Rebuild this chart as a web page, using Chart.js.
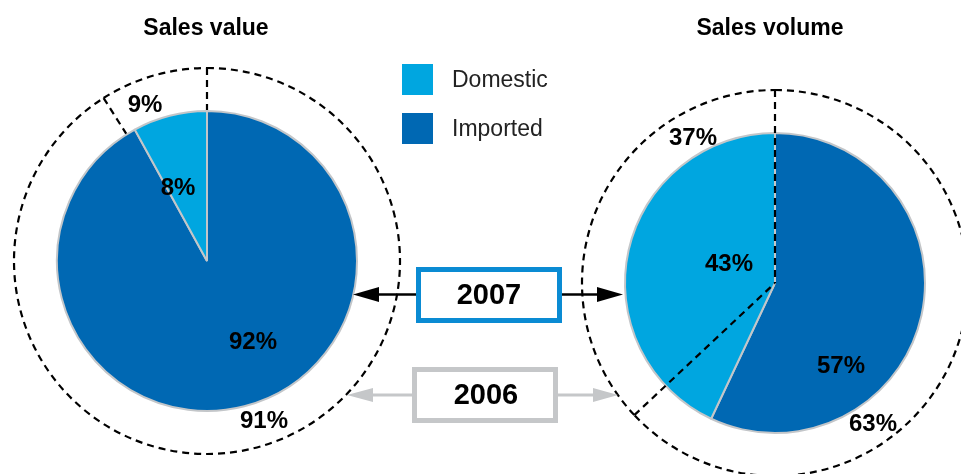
<!DOCTYPE html>
<html>
<head>
<meta charset="utf-8">
<script src="https://cdn.jsdelivr.net/npm/chart.js@4.4.1/dist/chart.umd.min.js"></script>
<style>
  html, body { margin: 0; padding: 0; background: #fff; overflow: hidden; }
  #stage { position: relative; width: 961px; height: 474px; overflow: hidden;
           font-family: "Liberation Sans", Arial, Helvetica, sans-serif; }
  #stage canvas { position: absolute; }
  .lbl { position: absolute; line-height: 1; white-space: nowrap; transform: translate(-50%, -50%); z-index: 10; }
  .title { font-weight: bold; font-size: 23px; color: #000; }
  .pct { font-weight: bold; font-size: 24px; color: #000; }
  .legend { position: absolute; left: 402px; top: 64px; z-index: 10; }
  .legend-row { display: flex; align-items: center; height: 31px; margin-bottom: 18px; }
  .legend-row span.box { width: 31px; height: 31px; margin-right: 19px; }
  .legend-row span.txt { font-size: 23px; color: #222; line-height: 1; }
  svg { position: absolute; left: 0; top: 0; z-index: 9; }
</style>
</head>
<body>
<div id="stage"></div>
<script>
// data
const categories = ['Domestic', 'Imported'];
const years = ['2007', '2006'];
const panelTitles = ['Sales value', 'Sales volume'];
const salesValue2007 = [8, 92];
const salesValue2006 = [9, 91];
const salesVolume2007 = [43, 57];
const salesVolume2006 = [37, 63];

const colors = ['#00a6e0', '#0068b3'];
const pieBorder = '#c3c6c9';

// layout of the two panels (centre of pies, label anchors)
const panels = [
  { title: panelTitles[0], titleX: 206, cx: 207, cy: 261, cur: salesValue2007, prev: salesValue2006, prevOnTop: false,
    curLabels: [[178, 187], [253, 341]], prevLabels: [[145, 104], [264, 420]] },
  { title: panelTitles[1], titleX: 770, cx: 775, cy: 283, cur: salesVolume2007, prev: salesVolume2006, prevOnTop: true,
    curLabels: [[729, 263], [841, 365]], prevLabels: [[693, 137], [873, 423]] }
];

const stage = document.getElementById('stage');

// dashed outline for the previous year, drawn from the arc geometry
const dashedOutline = {
  id: 'dashedOutline',
  afterDatasetsDraw(chart, args, opts) {
    const ctx = chart.ctx;
    const arcs = chart.getDatasetMeta(0).data;
    ctx.save();
    ctx.strokeStyle = opts.color;
    ctx.lineWidth = opts.width;
    ctx.setLineDash(opts.dash);
    arcs.forEach(arc => {
      const { x, y, startAngle, endAngle, outerRadius } =
        arc.getProps(['x', 'y', 'startAngle', 'endAngle', 'outerRadius'], true);
      ctx.beginPath();
      ctx.arc(x, y, outerRadius, startAngle, endAngle);
      ctx.stroke();
      ctx.beginPath();
      ctx.moveTo(x + Math.cos(startAngle) * outerRadius, y + Math.sin(startAngle) * outerRadius);
      ctx.lineTo(x, y);
      ctx.stroke();
    });
    ctx.restore();
  }
};

function addCanvas(cx, cy, size, z) {
  const c = document.createElement('canvas');
  c.width = size; c.height = size;
  c.style.left = (cx - size / 2) + 'px';
  c.style.top = (cy - size / 2) + 'px';
  c.style.zIndex = z;
  stage.appendChild(c);
  return c;
}

function addLabel(text, x, y, cls) {
  const d = document.createElement('div');
  d.className = 'lbl ' + cls;
  d.textContent = text;
  d.style.left = x + 'px';
  d.style.top = y + 'px';
  stage.appendChild(d);
}

panels.forEach(p => {
  // 2007 pie (imported first so domestic sits left of 12 o'clock)
  const curCanvas = addCanvas(p.cx, p.cy, 306, p.prevOnTop ? 1 : 2);
  new Chart(curCanvas, {
    type: 'pie',
    data: {
      labels: [categories[1], categories[0]],
      datasets: [{
        data: [p.cur[1], p.cur[0]],
        backgroundColor: [colors[1], colors[0]],
        borderColor: pieBorder,
        borderWidth: 2
      }]
    },
    options: {
      responsive: false, animation: false, events: [], radius: 150,
      plugins: { legend: { display: false }, tooltip: { enabled: false } }
    }
  });

  // 2006 dashed pie
  const prevCanvas = addCanvas(p.cx, p.cy, 394, p.prevOnTop ? 2 : 1);
  new Chart(prevCanvas, {
    type: 'pie',
    data: {
      labels: [categories[1], categories[0]],
      datasets: [{
        data: [p.prev[1], p.prev[0]],
        backgroundColor: 'rgba(0,0,0,0)',
        borderWidth: 0
      }]
    },
    options: {
      responsive: false, animation: false, events: [], radius: 193,
      plugins: {
        legend: { display: false }, tooltip: { enabled: false },
        dashedOutline: { color: '#000', width: 2.2, dash: [7, 5] }
      }
    },
    plugins: [dashedOutline]
  });

  addLabel(p.title, p.titleX, 27, 'title');
  p.curLabels.forEach((pos, i) => addLabel(p.cur[i] + '%', pos[0], pos[1], 'pct'));
  p.prevLabels.forEach((pos, i) => addLabel(p.prev[i] + '%', pos[0], pos[1], 'pct'));
});

// legend
const legend = document.createElement('div');
legend.className = 'legend';
legend.innerHTML = categories.map((c, i) =>
  `<div class="legend-row"><span class="box" style="background:${colors[i]}"></span><span class="txt">${c}</span></div>`
).join('');
stage.appendChild(legend);

// year boxes with arrows
const svg = `
<svg width="961" height="474" xmlns="http://www.w3.org/2000/svg" font-family="Liberation Sans, Arial, sans-serif">
  <line x1="378" y1="294.5" x2="418" y2="294.5" stroke="#000" stroke-width="2.5"/>
  <line x1="560" y1="294.5" x2="598" y2="294.5" stroke="#000" stroke-width="2.5"/>
  <polygon points="353,294.5 379,287 379,302" fill="#000"/>
  <polygon points="623,294.5 597,287 597,302" fill="#000"/>
  <rect x="418.5" y="269.5" width="141" height="51" fill="#fff" stroke="#0a8bd3" stroke-width="5"/>
  <text x="489" y="304" text-anchor="middle" font-size="29" font-weight="bold" fill="#000">${years[0]}</text>

  <line x1="372" y1="395" x2="414" y2="395" stroke="#c5c7c9" stroke-width="3"/>
  <line x1="556" y1="395" x2="594" y2="395" stroke="#c5c7c9" stroke-width="3"/>
  <polygon points="347,395 373,388 373,402" fill="#c5c7c9"/>
  <polygon points="618,395 593,388 593,402" fill="#c5c7c9"/>
  <rect x="414.5" y="369.5" width="141" height="51" fill="#fff" stroke="#c5c7c9" stroke-width="5"/>
  <text x="486" y="404" text-anchor="middle" font-size="29" font-weight="bold" fill="#000">${years[1]}</text>
</svg>`;
stage.insertAdjacentHTML('beforeend', svg);
</script>
</body>
</html>
